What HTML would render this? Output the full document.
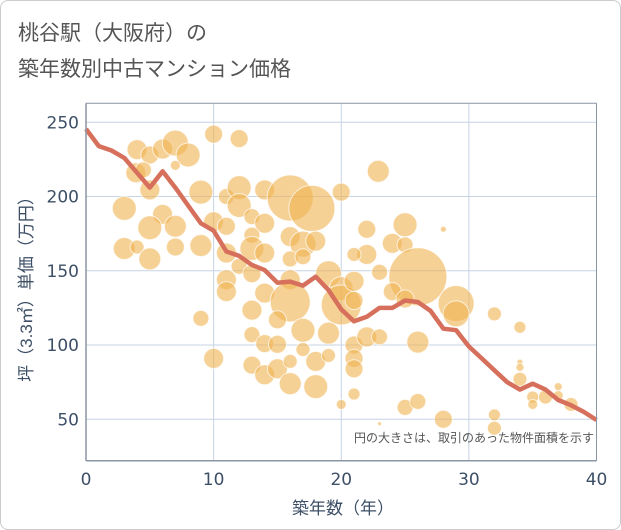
<!DOCTYPE html>
<html><head><meta charset="utf-8">
<style>
html,body{margin:0;padding:0;background:#fff;}
body{width:621px;height:530px;overflow:hidden;font-family:"Liberation Sans","Noto Sans CJK JP",sans-serif;}
#frame{position:absolute;left:0;top:0;width:619px;height:528px;border:1px solid #ccc;border-radius:8px;}
</style></head>
<body>
<div id="frame"></div>
<svg id="chart" width="621" height="530" style="position:absolute;left:0;top:0">
<text x="18" y="40" font-size="21" fill="#555" font-family="Noto Sans CJK JP, sans-serif">桃谷駅（大阪府）の</text>
<text x="18" y="76" font-size="21" fill="#555" font-family="Noto Sans CJK JP, sans-serif">築年数別中古マンション価格</text>
<g id="grid"></g><g id="bubbles"></g><g id="line"></g><g id="axes"></g>
<text x="594" y="442" font-size="12" fill="#555" text-anchor="end" font-family="Liberation Sans, Noto Sans CJK JP, sans-serif">円の大きさは、取引のあった物件面積を示す</text>
<text x="343" y="514" font-size="17" fill="#3d4f66" text-anchor="middle" font-family="Liberation Sans, Noto Sans CJK JP, sans-serif">築年数（年）</text>
<text transform="translate(32,285) rotate(-90)" font-size="17" fill="#3d4f66" text-anchor="middle" font-family="Liberation Sans, Noto Sans CJK JP, sans-serif">坪（3.3㎡）単価（万円）</text>
</svg>
<script>
const xTicks=[0,10,20,30,40];
const yTicks=[50,100,150,200,250];
const lineYears=[0,1,2,3,4,5,6,7,8,9,10,11,12,13,14,15,16,17,18,19,20,21,22,23,24,25,26,27,28,29,30,31,32,33,34,35,36,37,38,39,40];
const lineValues=[245.5,234,231,226,216,206,217,206,194,182,177,163,160,154,150.5,142,142.7,140,146,137,124,116,119,125,125,130,129,123,111,110,99,91,83,75,70,74,70,63,59.5,55,49.5];
const bubbleX=[10,12,4,5,6,7,8,7,3.9,4.5,5,22.9,3,9,11,12,12,14,16,17.7,20,6,7,5,10,11,13,14,13,3,4,5,7,9,11,13,14,16,17,18,16,17,22,25,24,25,22,21,28,26,29,29,23,24,25,32,34,11,11,12,13,14,16,16,19,20,20,21,21,9,13,15,17,13,14,15,17,19,21,22,23,26,10,13,14,15,16,16,18,18,19,21,21,21,20,25,26,28,23,32,32,34,34,34,35,35,36,37,37,38];
const bubbleY=[242,239,231.6,228,232,236,228,221,216,218,204.5,217,192,203,200,206,194,204.5,199,192,203,188,180,179,183,180,186.5,182,174,165,166,158,166,167,162,165,162,173,168,170,158,159.5,178,181,168.5,167.5,161,161,178,146,128,121,149,136,131,121,112,144,136,153,148,135,144,129,148,138,127,143,130,118,123.5,117,110,107,101,100.5,97,108,100,105.5,105.5,102,91,86.5,80,84,74,89,89,72,93,91,84,67,60,58,62,50,47,53,44,88.5,85,77,65,60,65,72,66,60];
const bubbleR=[9,9,10,9,10,13,12,5,10,8,10,11,12,12,8,12,12,10,23,23,9,10,11,12,10,9,8,10,8,11,7,11,9,11,10,12,10,10,13,10,8,8,9,12,10,8,10,7,3,29,18,13,8,9,9,7,6,10,10,8,9,10,10,20,13,12,20,10,9,8,10,9,12,8,9,9,7,11,9,10,8,11,10,9,10,10,11,7,10,12,7,9,9,6,5,8,8,9,2,6,7,3,4,7,6,5,7,4,5,7];
const X0=86,XS=12.763,Y50=419.3,YS=1.485,PT=103.3,PB=460.7,PL=86,PR=596.5;
const sx=v=>X0+v*XS, sy=v=>Y50-(v-50)*YS;
const NS="http://www.w3.org/2000/svg";
function mk(t,a,p){const e=document.createElementNS(NS,t);for(const k in a)e.setAttribute(k,a[k]);p.appendChild(e);return e;}
const grid=document.getElementById('grid'),axes=document.getElementById('axes');
const TF='DejaVu Sans, Liberation Sans, sans-serif';
for(const t of xTicks){
 const g=mk('line',{x1:sx(t),x2:sx(t),y1:PT,y2:PB,stroke:'#c5d3e3','stroke-width':1},grid);
 
 
 const l=mk('text',{x:sx(t),y:485,'font-size':17,fill:'#3d4f66','text-anchor':'middle','font-family':TF},axes);
 l.textContent=t;
 
 
}
for(const t of yTicks){
 const g=mk('line',{x1:PL,x2:PR,y1:sy(t),y2:sy(t),stroke:'#c5d3e3','stroke-width':1},grid);
 
 
 const l=mk('text',{x:79,y:sy(t)+6,'font-size':17,fill:'#3d4f66','text-anchor':'end','font-family':TF},axes);
 l.textContent=t;
 
 
}
const tb=mk('line',{x1:PL,x2:PR,y1:PT,y2:PT,stroke:'#8a96a3'},axes);


const rb=mk('line',{x1:PR,x2:PR,y1:PT,y2:PB,stroke:'#8a96a3'},axes);


const xa=mk('line',{x1:PL,x2:PR,y1:PB,y2:PB,stroke:'#8a96a3','stroke-width':1.5},axes);


const ya=mk('line',{x1:PL,x2:PL,y1:PT,y2:PB,stroke:'#8a96a3','stroke-width':1.5},axes);


const bg=document.getElementById('bubbles');
for(let i=0;i<bubbleX.length;i++){
 const c=mk('circle',{cx:sx(bubbleX[i]),cy:sy(bubbleY[i]),r:bubbleR[i],fill:'rgba(240,178,80,0.6)',stroke:'rgba(255,255,255,0.7)','stroke-width':1},bg);
 
 
}
const pts=lineYears.map((y,i)=>sx(y).toFixed(1)+','+sy(lineValues[i]).toFixed(1)).join(' ');
const pl=mk('polyline',{points:pts,fill:'none',stroke:'#d6705c','stroke-width':4.5,'stroke-linejoin':'round'},document.getElementById('line'));


</script>
</body></html>
